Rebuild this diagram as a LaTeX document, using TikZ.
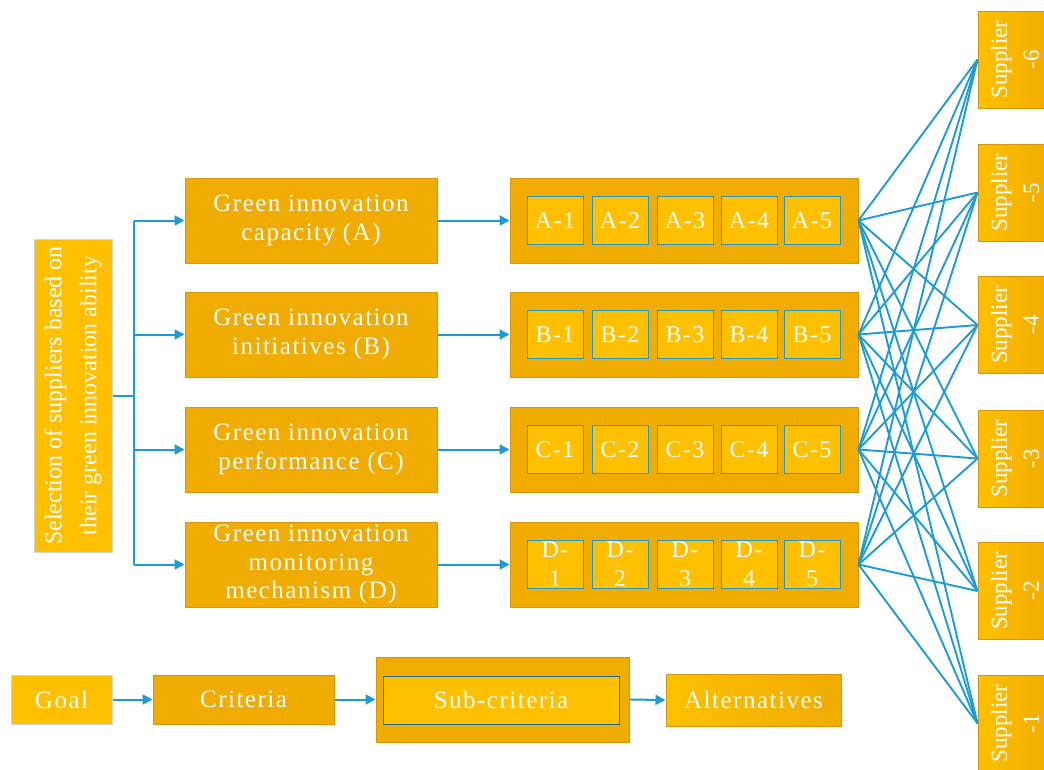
\documentclass[tikz,border=0pt]{standalone}
\usepackage{fontspec}
\setmainfont{Liberation Serif}
\newfontfamily\spaced{Liberation Serif}[LetterSpace=6]
\usetikzlibrary{arrows.meta}
\definecolor{golddark}{RGB}{240,172,0}
\definecolor{goldlight}{RGB}{255,192,0}
\definecolor{goldedge}{RGB}{214,152,10}
\definecolor{linkblue}{RGB}{30,155,215}
\definecolor{greyedge}{RGB}{212,212,212}

\begin{document}
\begin{tikzpicture}[x=1pt,y=-1pt,
  lbl/.style={text=white, align=center, inner sep=0pt,
    font=\spaced\fontsize{25}{28.5}\selectfont},
  critbox/.style={lbl, draw=goldedge, fill=golddark, line width=1pt,
    minimum width=252pt, minimum height=85pt},
  groupbox/.style={draw=goldedge, fill=golddark, line width=1pt, inner sep=0pt,
    minimum width=348pt, minimum height=85pt},
  subbox/.style={lbl, draw=linkblue, fill=goldlight, line width=1pt,
    minimum width=56pt, minimum height=48pt, font=\spaced\fontsize{24}{29}\selectfont},
  supbox/.style={draw=goldedge, left color=goldlight, right color=golddark,
    line width=1pt, inner sep=0pt, minimum width=74pt, minimum height=97pt},
  suptext/.style={text=white, align=center, inner sep=0pt, rotate=90,
    font=\fontsize{23}{32}\selectfont},
  goalbox/.style={draw=greyedge, fill=goldlight, line width=1pt, inner sep=0pt},
  flow/.style={draw=linkblue, line width=2pt, -{Triangle[length=10pt,width=10pt]}},
  link/.style={draw=linkblue, line width=1.9pt},
]
\useasboundingbox (0,0) rectangle (1044,769);
\clip (0,0) rectangle (1044,769);

% goal (rotated label)
\node[goalbox, minimum width=78pt, minimum height=313pt] (goal) at (73,395.5) {};
\node[text=white, align=center, inner sep=0pt, rotate=90,
  font=\fontsize{24}{35}\selectfont] (goaltext) at (goal.center)
  {Selection of suppliers based on\\their green innovation ability};

% criteria
\node[critbox] (critA) at (311,220.5) {Green innovation\\capacity (A)};
\node[critbox] (critB) at (311,334.5) {Green innovation\\initiatives (B)};
\node[critbox] (critC) at (311,449.5) {Green innovation\\performance (C)};
\node[critbox] (critD) at (311,564.5) {Green innovation\\monitoring\\mechanism (D)};

% fork from the goal to the four criteria
\draw[linkblue, line width=2pt] (goal.east) -- ++(21,0) coordinate (fork);
\coordinate (forkTop) at (fork |- critA.west);
\coordinate (forkBot) at (fork |- critD.west);
\draw[linkblue, line width=2pt] (forkTop) -- (forkBot);
\foreach \c in {critA,critB,critC,critD}
  \draw[flow] (fork |- \c.west) -- (\c.west);

% sub-criteria groups
\foreach \g/\y in {A/220.5,B/334.5,C/449.5,D/564.5}{
  \node[groupbox] (grp\g) at (684,\y) {};
  \draw[flow] (crit\g.east) -- (grp\g.west);
}
\foreach \g/\y in {A/220.5,B/334.5,C/449.5}{
  \foreach \i/\x in {1/555,2/620,3/685,4/749,5/812}
    \node[subbox] (sub\g\i) at (\x,\y) {\g-\i};
}
\foreach \i/\x in {1/555,2/620,3/685,4/749,5/812}
  \node[subbox] (subD\i) at (\x,564.5) {D-\\\i};

% alternatives
\foreach \s/\y in {6/59.5,5/192.5,4/325,3/458.5,2/591,1/723.5}{
  \node[supbox] (sup\s) at (1015,\y) {};
  \node[suptext] (supt\s) at (sup\s.center) {Supplier\\-\s};
}

% every sub-criteria group linked to every supplier
\foreach \g in {A,B,C,D}
  \foreach \s in {1,...,6}
    \draw[link] (grp\g.east) -- (sup\s.west);

% legend row
\node[goalbox, lbl, minimum width=101pt, minimum height=49pt] (legGoal) at (61.5,699.5) {Goal};
\node[critbox, minimum width=181pt, minimum height=49pt] (legCrit) at (243.5,699.5) {Criteria};
\node[groupbox, minimum width=253pt, minimum height=85pt] (legSubOuter) at (502.5,699.5) {};
\node[lbl, draw=linkblue!70!black, fill=goldlight, line width=1pt,
  minimum width=236pt, minimum height=48pt] (legSub) at (501,700) {Sub-criteria};
\node[lbl, draw=goldedge, left color=goldlight, right color=golddark, line width=1pt,
  minimum width=175pt, minimum height=52pt] (legAlt) at (753.5,700) {Alternatives};
\draw[flow] (legGoal.east) -- (legCrit.west);
\draw[flow] (legCrit.east) -- (legSubOuter.west);
\draw[flow] (legSubOuter.east) -- (legAlt.west);
\end{tikzpicture}
\end{document}
